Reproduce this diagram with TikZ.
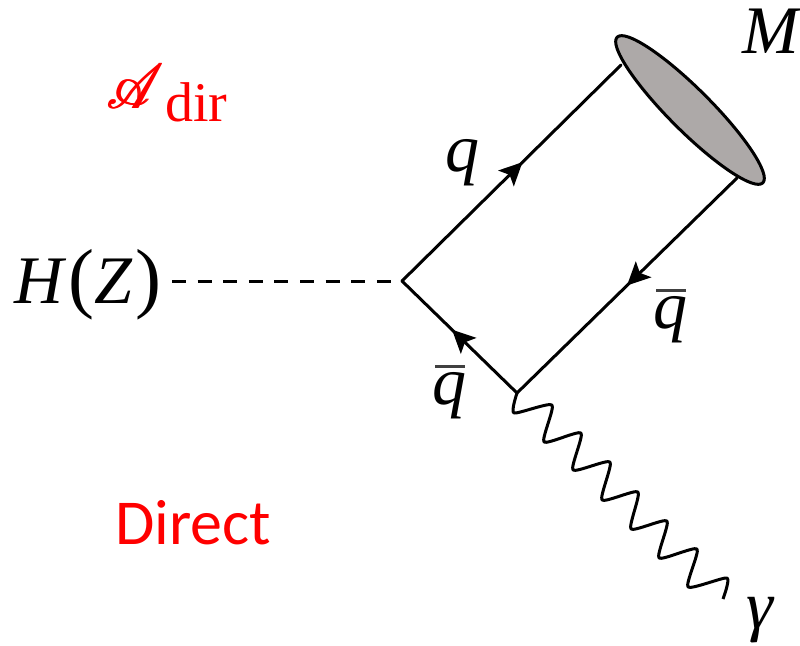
\documentclass[tikz,border=0pt]{standalone}
\usepackage{fontspec}
\usepackage{mathrsfs}
\setmainfont{Liberation Serif}
\newfontfamily\labelsans{Carlito}
\usetikzlibrary{arrows.meta,decorations.markings,shapes.geometric}
\definecolor{blobgray}{HTML}{ADA9A8}
\definecolor{sigred}{HTML}{FF0000}
\newcommand{\bigit}[1]{{\fontsize{68}{68}\selectfont\itshape #1}}
\newcommand{\bigparen}[1]{{\fontsize{78}{78}\selectfont #1}}
\newcommand{\qbarlabel}{{\fontsize{68}{68}\selectfont\leavevmode\rlap{\kern3pt\raisebox{37pt}{\textcolor{black!75}{\rule{30pt}{2.6pt}}}}\itshape q}}
\newcommand{\ampglyph}{\scalebox{5.4}[6.3]{$\mathscr{A}$}}
\tikzset{
  fermion/.style={line width=3pt, line cap=round},
  arrowat/.style={postaction={decorate,decoration={markings,mark=at position #1 with {\arrow{Stealth[length=23pt,width=22pt,inset=5pt]}}}}},
  scalar/.style={line width=3pt, dash pattern=on 14pt off 11.6pt},
  photon/.style={line width=3pt, line join=round},
  blob/.style={draw=black, line width=3pt, fill=blobgray, ellipse, inner sep=0pt, minimum width=206pt, minimum height=42pt, rotate=-45},
  lbl/.style={inner sep=0pt, anchor=center},
  redlbl/.style={inner sep=0pt, anchor=center, text=sigred}
}
\begin{document}
\begin{tikzpicture}[x=1pt,y=-1pt]
\useasboundingbox (0,0) rectangle (800,645);
\coordinate (hend) at (172,281);
\coordinate (v1) at (402,281);
\coordinate (v2) at (517,393);
\coordinate (mtop) at (621,65);
\coordinate (mbot) at (737,178);
\coordinate (gend) at (723,599);
\draw[fermion,arrowat=0.55] (v1) -- (mtop);
\draw[fermion,arrowat=0.5] (mbot) -- (v2);
\draw[fermion,arrowat=0.565] (v2) -- (v1);
\draw[scalar] (hend) -- (v1);
\draw[photon] plot[smooth,tension=0.35] coordinates {(v2) (514,413) (552,405) (544,442) (581,433) (573,470) (610,462) (602,500) (638,492) (631,529) (667,521) (659,558) (697,549) (688,587) (727,578) (gend)};
\node[blob] (meson) at (690,110) {};
\node[lbl] (mlabel) at (771,31) {\bigit{M}};
\node[lbl] (hlabel) at (88,285) {\bigit{H}\kern5pt\bigparen{(}\bigit{Z}\kern3pt\bigparen{)}};
\node[lbl] (qlabel) at (462,163) {\bigit{q}};
\node[lbl] (q2label) at (670,316) {\qbarlabel};
\node[lbl] (q3label) at (449,392) {\qbarlabel};
\node[lbl] (glabel) at (760,620) {\bigit{γ}};
\node[redlbl] (amp) at (167,93) {\rlap{\ampglyph}\kern1pt\rlap{\ampglyph}\kern1pt\ampglyph\kern1pt\raisebox{-13pt}{\fontsize{56}{56}\selectfont dir}};
\node[redlbl] (direct) at (193,523) {\labelsans\fontsize{64}{64}\selectfont Direct};
\end{tikzpicture}
\end{document}
